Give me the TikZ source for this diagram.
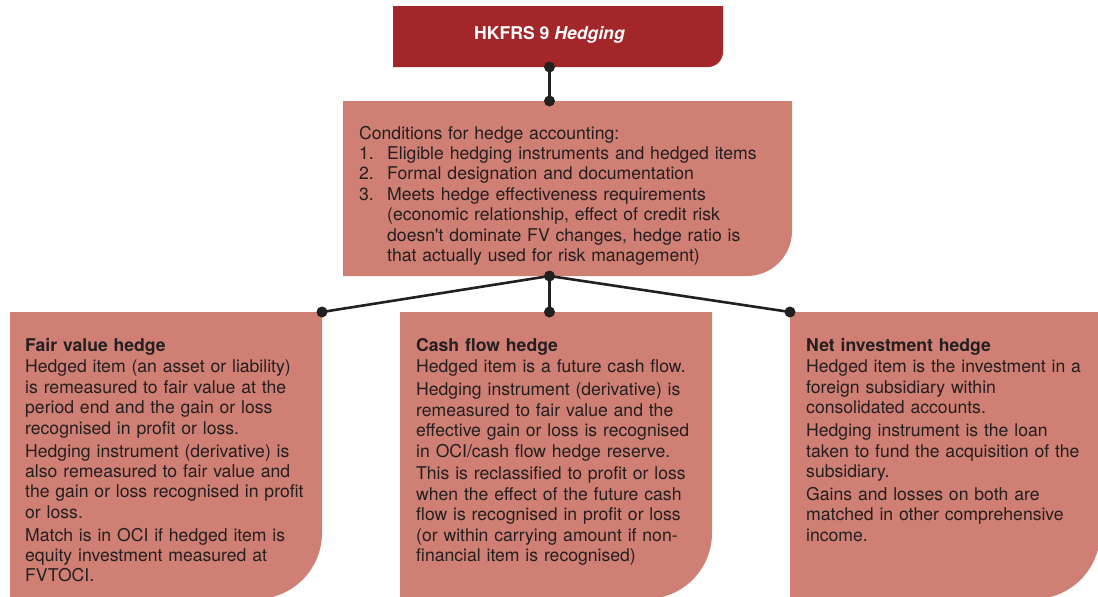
\documentclass[tikz,border=0pt]{standalone}
\usepackage{fontspec}
\setmainfont{TeX Gyre Heros}
\definecolor{hedgered}{HTML}{A3262A}
\definecolor{hedgepink}{HTML}{CF7F73}
\definecolor{inkgrey}{HTML}{231F20}
\def\cornerbox[#1](#2,#3)(#4,#5)(#6){\fill[#1] (#2,#3) -- (#4,#3) [rounded corners=#6] -- (#4,#5) [sharp corners] -- (#2,#5) -- cycle;}

\begin{document}
\begin{tikzpicture}[x=1pt,y=-1pt,
		txt/.style={inner sep=0pt, anchor=base west, text width=340pt, align=left, text=inkgrey, font=\fontsize{17.6}{20.4}\selectfont},
		link/.style={line width=2.6pt, draw=inkgrey},
		joint/.style={circle, fill=inkgrey, inner sep=0pt, minimum size=11pt}]
				%%%%% START %%%%%
				\useasboundingbox (0,0) rectangle (1098,597);
				
				\cornerbox[hedgered](393,6)(723,67)(15pt)
				\cornerbox[hedgepink](343,101)(792,276)(45pt)
				\cornerbox[hedgepink](10,312)(322,599)(66pt)
				\cornerbox[hedgepink](400,312)(712,599)(66pt)
				\cornerbox[hedgepink](790,312)(1100,599)(66pt)
				
				\node[txt, anchor=base, text width=, text=white] (title) at (549.5,39) {\textbf{HKFRS 9 \textit{Hedging}}};
				
				\node[txt, text width=440pt] (cond) at (359,139) {Conditions for hedge accounting:\\
					\makebox[28pt][l]{1.}Eligible hedging instruments and hedged items\\
					\makebox[28pt][l]{2.}Formal designation and documentation\\
					\makebox[28pt][l]{3.}Meets hedge effectiveness requirements\\
					\hspace*{28pt}(economic relationship, effect of credit risk\\
					\hspace*{28pt}doesn\textquotesingle t dominate FV changes, hedge ratio is\\
					\hspace*{28pt}that actually used for risk management)};
				
				\node[txt] (fvh) at (25,351) {\textbf{Fair value hedge}\\[1.5pt]
					Hedged item (an asset or liability)\\
					is remeasured to fair value at the\\
					period end and the gain or loss\\
					recognised in profit or loss.\\[2.5pt]
					Hedging instrument (derivative) is\\
					also remeasured to fair value and\\
					the gain or loss recognised in profit\\
					or loss.\\[2.5pt]
					Match is in OCI if hedged item is\\
					equity investment measured at\\
					FVTOCI.};
				
				\node[txt] (cfh) at (416,351) {\textbf{Cash flow hedge}\\[1.5pt]
					Hedged item is a future cash flow.\\[2.5pt]
					Hedging instrument (derivative) is\\
					remeasured to fair value and the\\
					effective gain or loss is recognised\\
					in OCI/cash flow hedge reserve.\\[2.5pt]
					This is reclassified to profit or loss\\
					when the effect of the future cash\\
					flow is recognised in profit or loss\\
					(or within carrying amount if non-\\
					financial item is recognised)};
				
				\node[txt] (nih) at (806,351) {\textbf{Net investment hedge}\\[1.5pt]
					Hedged item is the investment in a\\
					foreign subsidiary within\\
					consolidated accounts.\\[2.5pt]
					Hedging instrument is the loan\\
					taken to fund the acquisition of the\\
					subsidiary.\\[2.5pt]
					Gains and losses on both are\\
					matched in other comprehensive\\
					income.};
				
				% joints and links
				\node[joint] (ja) at (549.5,67) {};
				\node[joint] (jb) at (549.5,101) {};
				\node[joint] (jc) at (549.5,276) {};
				\node[joint] (jl) at (322,312) {};
				\node[joint] (jm) at (549.5,312) {};
				\node[joint] (jr) at (790,312) {};
				
				\draw[link] (ja.center) -- (jb.center);
				\draw[link] (jc.center) -- (jl.center);
				\draw[link] (jc.center) -- (jm.center);
				\draw[link] (jc.center) -- (jr.center);
				%%%%% END %%%%%
\end{tikzpicture}
\end{document}
